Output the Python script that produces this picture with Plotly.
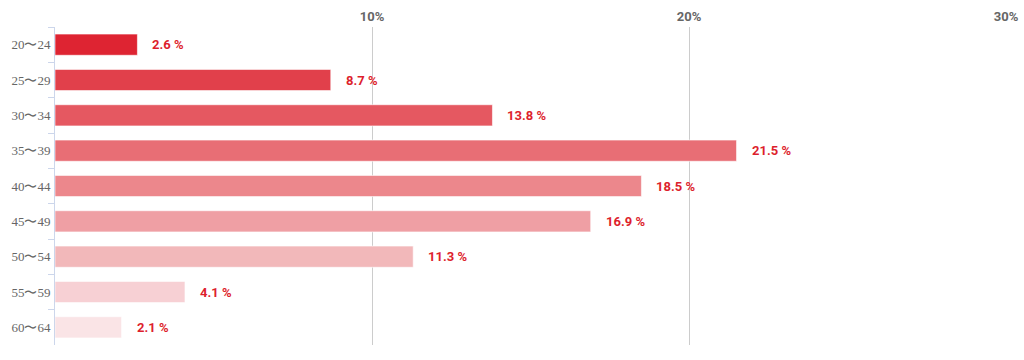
import plotly.graph_objects as go

categories = ["20〜24", "25〜29", "30〜34", "35〜39", "40〜44", "45〜49", "50〜54", "55〜59", "60〜64"]
values = [2.6, 8.7, 13.8, 21.5, 18.5, 16.9, 11.3, 4.1, 2.1]
bar_colors = ["#DE2432", "#E1404B", "#E55861", "#E86E75", "#EC878C", "#EF9FA4", "#F2B8BA", "#F7D0D4", "#FAE4E6"]
tick_vals = [10, 20, 30]
tick_text = ["10%", "20%", "30%"]

fig = go.Figure()
fig.add_trace(go.Bar(
    x=values, y=categories, orientation="h",
    marker=dict(color=bar_colors, line=dict(color="rgba(255,255,255,0.6)", width=1)),
    width=0.6, hoverinfo="skip",
))

for c, v in zip(categories, values):
    fig.add_annotation(x=v, y=c, text=f"{v} %", showarrow=False, xanchor="left",
                       xshift=13, font=dict(family="Roboto, Liberation Sans, Arial", size=13, color="#DD1F2D", weight="bold"))

fig.update_layout(
    width=1024, height=360,
    margin=dict(l=55, r=18, t=27, b=15),
    plot_bgcolor="white", paper_bgcolor="white",
    showlegend=False,
    xaxis=dict(side="top", range=[0, 30], tickvals=tick_vals, ticktext=tick_text,
               showgrid=True, gridcolor="#CCCCCC", gridwidth=1, zeroline=False,
               showline=False, ticks="", automargin=False, ticklabelstandoff=2,
               tickfont=dict(family="Roboto, Liberation Sans, Arial", size=13, color="#666666", weight="bold")),
    yaxis=dict(autorange="reversed", showline=True, linecolor="#CCD6EB", linewidth=1,
               ticks="outside", ticklen=6, tickcolor="#CCD6EB", tickson="boundaries",
               showgrid=False, ticklabelstandoff=1, automargin=False,
               tickfont=dict(family="Liberation Serif, Times New Roman", size=13, color="#666666")),
)

fig.write_html("out.html", config={"displayModeBar": False},
               post_script="document.body.style.margin='0px';document.body.style.overflow='hidden';")
